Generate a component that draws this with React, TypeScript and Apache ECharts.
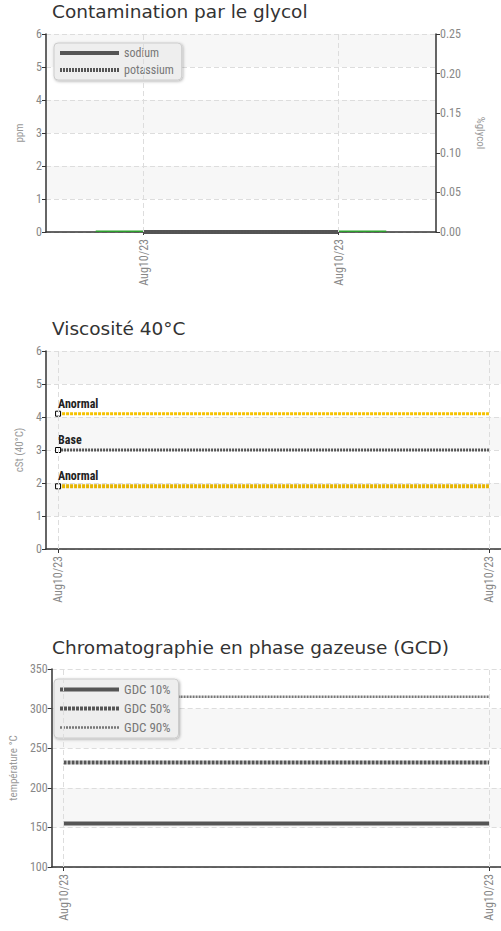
import React, { useEffect, useRef } from "react";
import * as echarts from "echarts";

const dates = ["Aug10/23", "Aug10/23"];
const sodium = [0, 0];
const potassium = [0, 0];
const glycol = [0, 0];
const anormalHigh = [4.1, 4.1];
const base = [3.0, 3.0];
const anormalLow = [1.9, 1.9];
const gdc10 = [155, 155];
const gdc50 = [232, 232];
const gdc90 = [315, 315];

const titles = [
  "Contamination par le glycol",
  "Viscosité 40°C",
  "Chromatographie en phase gazeuse (GCD)",
];

const COND = "'Roboto Condensed', 'Liberation Sans Narrow', 'DejaVu Sans Condensed', 'Open Sans', sans-serif";
const AXIS = "#333";
const LABEL = "#888";
const SPLIT = "#dddddd";

const pairs = (arr: number[]) => arr.map((v, i) => [i, v]);

function limitData(arr: number[], name: string) {
  return arr.map((v, i) =>
    i === 0
      ? {
          value: [i, v],
          symbol: "rect",
          symbolSize: 5,
          label: {
            show: true,
            position: "top",
            align: "left",
            distance: 1,
            formatter: name,
            color: "#222",
            fontSize: 12,
            fontFamily: COND,
            fontWeight: "bold",
          },
        }
      : { value: [i, v], symbol: "none" }
  );
}

const vLines = () => ({
  silent: true,
  symbol: ["none", "none"],
  label: { show: false },
  lineStyle: { color: SPLIT, type: [5, 3], width: 1 },
  data: dates.map((_, i) => ({ xAxis: i })),
});

export default function App() {
  const ref = useRef<HTMLDivElement>(null);
  useEffect(() => {
    if (!ref.current) return;
    const chart = echarts.init(ref.current, null, { renderer: "svg" });

    const yBase = (extra: any) => ({
      axisLine: { show: true, onZero: false, lineStyle: { color: AXIS, width: 1.5 } },
      axisTick: { show: true, length: 4, lineStyle: { color: AXIS } },
      axisLabel: { color: LABEL, fontSize: 12, fontFamily: COND, margin: 4 },
      splitLine: { show: true, lineStyle: { color: SPLIT, type: [5, 3] } },
      splitArea: { show: true, areaStyle: { color: ["#ffffff", "#f7f7f7"] } },
      nameLocation: "middle",
      nameTextStyle: { color: "#999", fontSize: 11, fontFamily: COND },
      ...extra,
    });

    const xLabel = {
      rotate: 90,
      color: LABEL,
      fontSize: 12,
      fontFamily: COND,
      margin: 7,
    };

    const valueX = (gridIndex: number) => ({
      type: "value",
      gridIndex,
      min: -0.028,
      max: 1.028,
      axisLine: { show: true, onZero: false, lineStyle: { color: AXIS, width: 1.5 } },
      axisTick: { show: true, length: 4, customValues: dates.map((_, i) => i), lineStyle: { color: AXIS } },
      axisLabel: {
        ...xLabel,
        customValues: dates.map((_, i) => i),
        formatter: (v: number) => dates[Math.round(v)] ?? "",
      },
      splitLine: { show: false },
    });

    const legendBase = {
      orient: "vertical",
      left: 54,
      backgroundColor: "#eeeeee",
      borderColor: "#cccccc",
      borderWidth: 1,
      borderRadius: 4,
      shadowBlur: 3,
      shadowColor: "rgba(0,0,0,0.3)",
      shadowOffsetX: 1,
      shadowOffsetY: 1,
      padding: [4, 8, 4, 4],
      itemWidth: 59,
      itemHeight: 10,
      itemGap: 5,
      itemStyle: { opacity: 0 },
      lineStyle: { width: "inherit" },
      textStyle: { color: "#777", fontSize: 12, fontFamily: COND },
    };

    const option: any = {
      animation: false,
      title: titles.map((t, i) => ({
        text: t,
        left: 52,
        top: [2, 319, 638][i],
        padding: 0,
        textStyle: { fontFamily: "'DejaVu Sans', sans-serif", fontSize: 18.5, fontWeight: "normal", color: "#333" },
      })),
      legend: [
        {
          ...legendBase,
          top: 43,
          data: ["sodium", "potassium"],
        },
        {
          ...legendBase,
          top: 679,
          itemGap: 6,
          textStyle: { color: "#777", fontSize: 13, fontFamily: COND },
          data: ["GDC 10%", "GDC 50%", "GDC 90%"],
        },
      ],
      grid: [
        { left: 46, right: 65, top: 34, height: 198 },
        { left: 46, right: 0, top: 351, height: 198 },
        { left: 46, right: 0, top: 669, height: 198 },
      ],
      xAxis: [
        {
          type: "category",
          gridIndex: 0,
          data: dates,
          boundaryGap: true,
          axisLine: { show: true, lineStyle: { color: AXIS, width: 1.5 } },
          axisTick: { show: true, alignWithLabel: true, length: 3, lineStyle: { color: AXIS } },
          axisLabel: { ...xLabel, interval: 0 },
          splitLine: { show: false },
        },
        valueX(1),
        valueX(2),
      ],
      yAxis: [
        yBase({ type: "value", gridIndex: 0, min: 0, max: 6, interval: 1, name: "ppm", nameGap: 7 }),
        yBase({
          type: "value",
          gridIndex: 0,
          position: "right",
          min: 0,
          max: 0.25,
          interval: 0.05,
          name: "%glycol",
          nameGap: 39,
          nameRotate: -90,
          splitLine: { show: false },
          splitArea: { show: false },
          axisLabel: { color: LABEL, fontSize: 12, fontFamily: COND, margin: 4, formatter: (v: number) => v.toFixed(2) },
        }),
        yBase({ type: "value", gridIndex: 1, min: 0, max: 6, interval: 1, name: "cSt (40°C)", nameGap: 17 }),
        yBase({ type: "value", gridIndex: 2, min: 100, max: 350, interval: 50, name: "température °C", nameGap: 28 }),
      ],
      series: [
        {
          name: "glycol",
          type: "bar",
          xAxisIndex: 0,
          yAxisIndex: 1,
          data: glycol,
          barWidth: "49%",
          barMinHeight: 1.5,
          itemStyle: { color: "#2ca02c" },
          z: 1,
        },
        {
          name: "sodium",
          type: "line",
          xAxisIndex: 0,
          yAxisIndex: 0,
          data: sodium,
          symbol: "none",
          lineStyle: { color: "#555", width: 4 },
          itemStyle: { color: "#555" },
          markLine: vLines(),
          z: 3,
        },
        {
          name: "potassium",
          type: "line",
          xAxisIndex: 0,
          yAxisIndex: 0,
          data: potassium,
          symbol: "none",
          lineStyle: { color: "#555", width: 4, type: [2, 1] },
          itemStyle: { color: "#555" },
          z: 4,
        },
        {
          name: "Anormal",
          type: "line",
          xAxisIndex: 1,
          yAxisIndex: 2,
          data: limitData(anormalHigh, "Anormal"),
          lineStyle: { color: "#f5c200", width: 3, type: [3, 1] },
          itemStyle: { color: "#fff", borderColor: "#000", borderWidth: 1 },
          markLine: vLines(),
          z: 3,
        },
        {
          name: "Base",
          type: "line",
          xAxisIndex: 1,
          yAxisIndex: 2,
          data: limitData(base, "Base"),
          lineStyle: { color: "#555", width: 3, type: [2, 1] },
          itemStyle: { color: "#fff", borderColor: "#000", borderWidth: 1 },
          z: 3,
        },
        {
          name: "Anormal ",
          type: "line",
          xAxisIndex: 1,
          yAxisIndex: 2,
          data: limitData(anormalLow, "Anormal"),
          lineStyle: { color: "#e6b400", width: 4, type: [3, 1] },
          itemStyle: { color: "#fff", borderColor: "#000", borderWidth: 1 },
          z: 3,
        },
        {
          name: "GDC 10%",
          type: "line",
          xAxisIndex: 2,
          yAxisIndex: 3,
          data: pairs(gdc10),
          symbol: "none",
          lineStyle: { color: "#555", width: 4 },
          itemStyle: { color: "#555" },
          markLine: vLines(),
          z: 3,
        },
        {
          name: "GDC 50%",
          type: "line",
          xAxisIndex: 2,
          yAxisIndex: 3,
          data: pairs(gdc50),
          symbol: "none",
          lineStyle: { color: "#555", width: 4, type: [3, 1] },
          itemStyle: { color: "#555" },
          z: 3,
        },
        {
          name: "GDC 90%",
          type: "line",
          xAxisIndex: 2,
          yAxisIndex: 3,
          data: pairs(gdc90),
          symbol: "none",
          lineStyle: { color: "#777", width: 2.5, type: [2, 1] },
          itemStyle: { color: "#777" },
          z: 3,
        },
      ],
    };

    chart.setOption(option);
    return () => chart.dispose();
  }, []);

  return (
    <div
      ref={ref}
      style={{ position: "absolute", left: 0, top: 0, width: 501, height: 931 }}
    />
  );
}
